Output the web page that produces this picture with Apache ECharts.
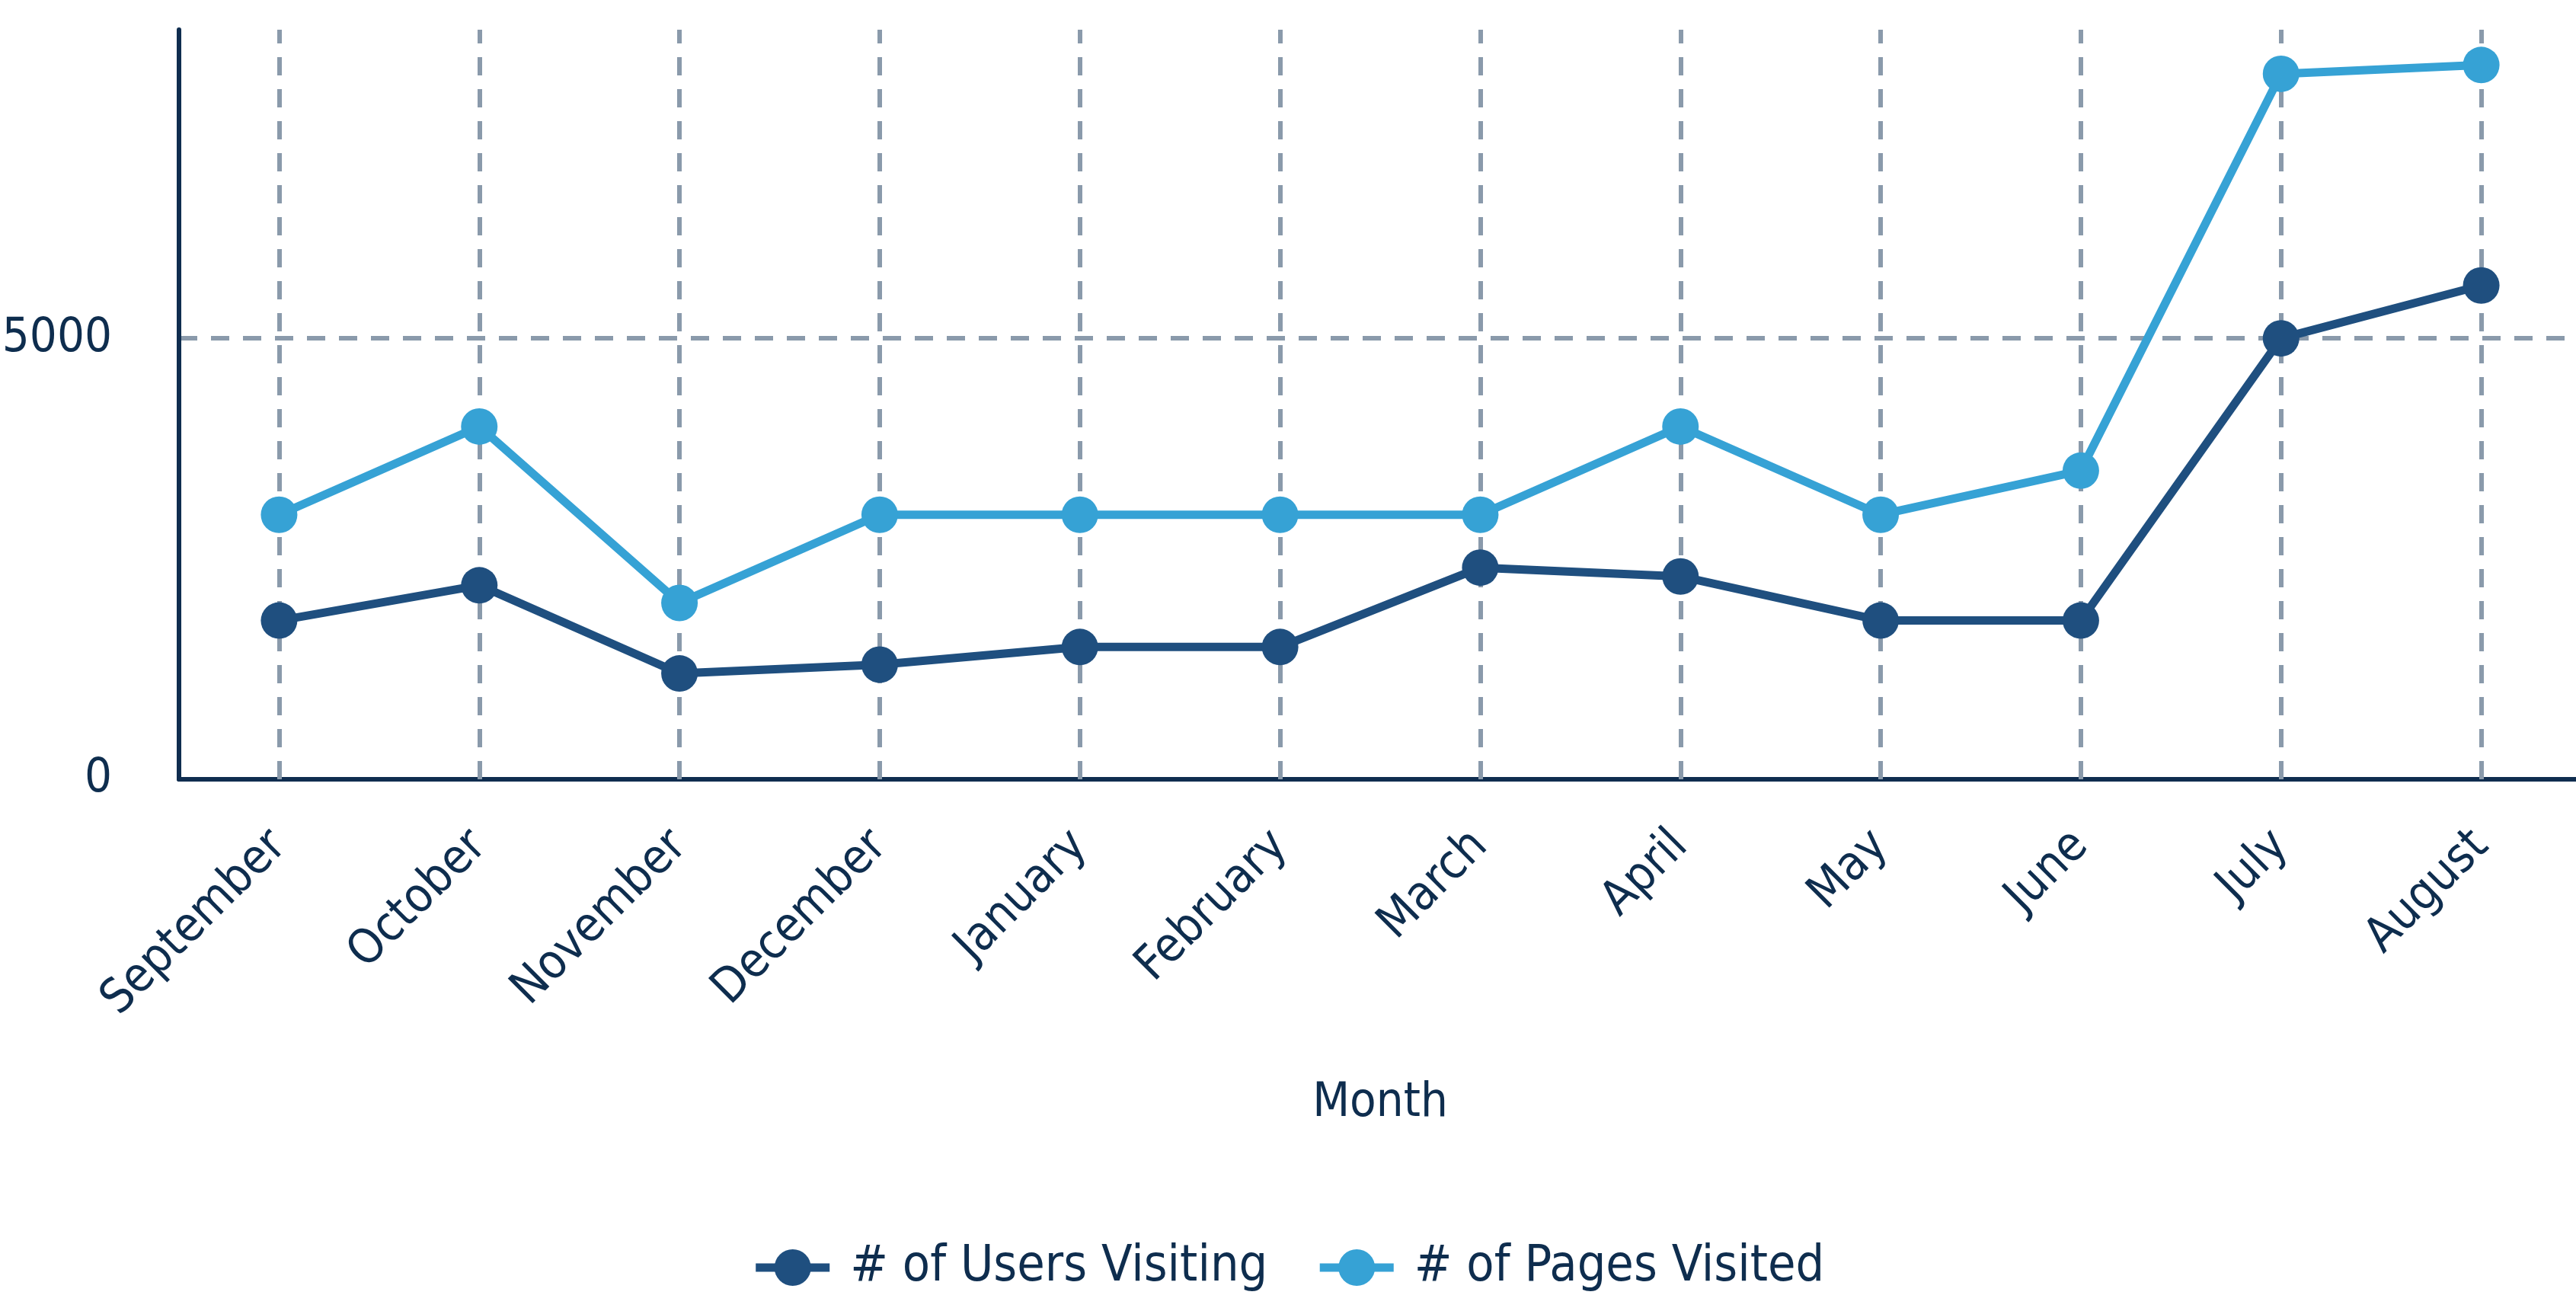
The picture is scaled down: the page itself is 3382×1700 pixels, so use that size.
<!DOCTYPE html>
<html>
<head>
<meta charset="utf-8">
<script src="https://cdn.jsdelivr.net/npm/echarts@6/dist/echarts.min.js"></script>
<style>
html,body{margin:0;padding:0;background:#fff;}
#chart{width:3382px;height:1700px;}
</style>
</head>
<body>
<div id="chart"></div>
<script>
const months = ['September','October','November','December','January','February','March','April','May','June','July','August'];
const usersVisiting = [1800, 2200, 1200, 1300, 1500, 1500, 2400, 2300, 1800, 1800, 5000, 5600];
const pagesVisited = [3000, 4000, 2000, 3000, 3000, 3000, 3000, 4000, 3000, 3500, 8000, 8100];
const seriesNames = ['# of Users Visiting', '# of Pages Visited'];
const xAxisTitle = 'Month';

const FONT = "'DejaVu Sans Condensed', 'Liberation Sans Narrow', sans-serif";
const TEXT = '#0e2d4e';
const GRID = '#8a9aab';
const DARK = '#1f4f7f';
const LIGHT = '#36a2d5';

const chart = echarts.init(document.getElementById('chart'), null, {renderer: 'canvas'});
chart.setOption({
  backgroundColor: '#ffffff',
  animation: false,
  grid: {left: 235, right: -7, top: 39, bottom: 677, containLabel: false, outerBoundsMode: 'none'},
  legend: {
    data: seriesNames,
    top: 1626,
    left: 'center',
    itemWidth: 97,
    itemHeight: 60,
    itemGap: 63,
    lineStyle: {width: 11},
    textStyle: {fontFamily: FONT, fontSize: 66, color: TEXT, padding: [0, 0, 0, 22]}
  },
  xAxis: {
    type: 'category',
    data: months,
    boundaryGap: true,
    name: xAxisTitle,
    nameLocation: 'middle',
    nameGap: 394,
    nameTextStyle: {fontFamily: FONT, fontSize: 63, color: TEXT},
    axisLine: {show: true, lineStyle: {color: '#0f2d4f', width: 6}},
    axisTick: {show: false},
    axisLabel: {rotate: 45, margin: 78, fontFamily: FONT, fontSize: 63, color: TEXT},
    splitLine: {show: false}
  },
  yAxis: {
    type: 'value',
    min: 0,
    max: 8500,
    interval: 5000,
    axisLine: {show: true, lineStyle: {color: '#0f2d4f', width: 6}},
    axisTick: {show: false},
    axisLabel: {
      margin: 88, fontFamily: FONT, fontSize: 63, color: TEXT, showMaxLabel: false,
      formatter: v => String(v)
    },
    splitLine: {show: true, showMaxLine: false, lineStyle: {color: GRID, width: 6, type: [24, 18]}}
  },
  series: [
    {
      name: seriesNames[0],
      type: 'line',
      data: usersVisiting,
      color: DARK,
      symbol: 'circle',
      symbolSize: 48,
      lineStyle: {width: 11, color: DARK},
      itemStyle: {color: DARK},
      z: 3,
      markLine: {
        silent: true,
        z: 1,
        symbol: ['none', 'none'],
        label: {show: false},
        lineStyle: {color: GRID, width: 6, type: [24, 18]},
        data: months.map(m => ({xAxis: m}))
      }
    },
    {
      name: seriesNames[1],
      type: 'line',
      data: pagesVisited,
      color: LIGHT,
      symbol: 'circle',
      symbolSize: 48,
      lineStyle: {width: 11, color: LIGHT},
      itemStyle: {color: LIGHT},
      z: 4
    }
  ]
});
</script>
</body>
</html>
